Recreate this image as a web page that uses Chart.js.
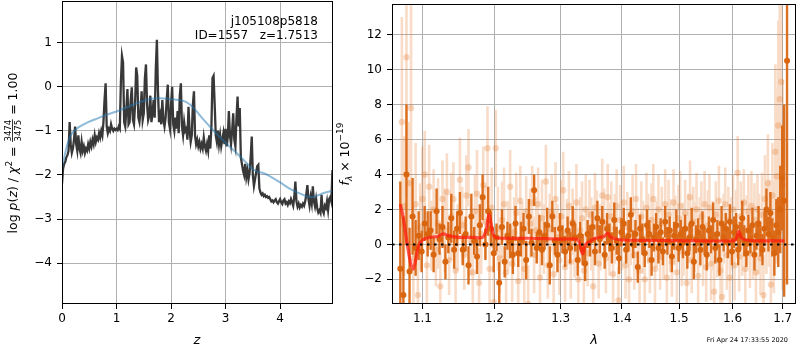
<!DOCTYPE html>
<html><head><meta charset="utf-8">
<script src="https://cdn.jsdelivr.net/npm/chart.js@4/dist/chart.umd.min.js"></script>
<style>
html,body{margin:0;padding:0;background:#fff;width:800px;height:350px;overflow:hidden}
#c1{position:absolute;left:0;top:0}
#c2{position:absolute;left:335px;top:0}
</style></head><body>
<canvas id="c1" width="335" height="350"></canvas>
<canvas id="c2" width="465" height="350"></canvas>
<script>
// ---------- left panel data: log p(z) ----------
const zTicks = [0, 1, 2, 3, 4];
const logpTicks = [-4, -3, -2, -1, 0, 1];
const zGrid = [0.00,0.02,0.04,0.06,0.08,0.10,0.12,0.14,0.16,0.18,0.20,0.22,0.24,0.26,0.28,0.30,0.32,0.34,0.36,0.38,0.40,0.42,0.44,0.46,0.48,0.50,0.52,0.54,0.56,0.58,0.60,0.62,0.64,0.66,0.68,0.70,0.72,0.74,0.76,0.78,0.80,0.82,0.84,0.86,0.88,0.90,0.92,0.94,0.96,0.98,1.00,1.02,1.04,1.06,1.08,1.10,1.12,1.14,1.16,1.18,1.20,1.22,1.24,1.26,1.28,1.30,1.32,1.34,1.36,1.38,1.40,1.42,1.44,1.46,1.48,1.50,1.52,1.54,1.56,1.58,1.60,1.62,1.64,1.66,1.68,1.70,1.72,1.74,1.76,1.78,1.80,1.82,1.84,1.86,1.88,1.90,1.92,1.94,1.96,1.98,2.00,2.02,2.04,2.06,2.08,2.10,2.12,2.14,2.16,2.18,2.20,2.22,2.24,2.26,2.28,2.30,2.32,2.34,2.36,2.38,2.40,2.42,2.44,2.46,2.48,2.50,2.52,2.54,2.56,2.58,2.60,2.62,2.64,2.66,2.68,2.70,2.72,2.74,2.76,2.78,2.80,2.82,2.84,2.86,2.88,2.90,2.92,2.94,2.96,2.98,3.00,3.02,3.04,3.06,3.08,3.10,3.12,3.14,3.16,3.18,3.20,3.22,3.24,3.26,3.28,3.30,3.32,3.34,3.36,3.38,3.40,3.42,3.44,3.46,3.48,3.50,3.52,3.54,3.56,3.58,3.60,3.62,3.64,3.66,3.68,3.70,3.72,3.74,3.76,3.78,3.80,3.82,3.84,3.86,3.88,3.90,3.92,3.94,3.96,3.98,4.00,4.02,4.04,4.06,4.08,4.10,4.12,4.14,4.16,4.18,4.20,4.22,4.24,4.26,4.28,4.30,4.32,4.34,4.36,4.38,4.40,4.42,4.44,4.46,4.48,4.50,4.52,4.54,4.56,4.58,4.60,4.62,4.64,4.66,4.68,4.70,4.72,4.74,4.76,4.78,4.80,4.82,4.84,4.86,4.88,4.90,4.92,4.94,4.96];
const logpz = [-2.20,-1.85,-1.75,-1.70,-1.60,-1.55,-1.45,-0.80,-1.30,-1.50,-1.40,-1.20,-0.90,-1.30,-1.45,-1.10,-1.40,-1.50,-1.25,-1.45,-1.35,-1.50,-1.40,-1.45,-1.30,-1.40,-1.25,-1.35,-1.20,-1.30,-1.10,-1.25,-1.15,-1.20,-1.05,-1.15,-1.00,-1.10,-0.80,-0.30,0.08,-0.90,-1.05,-0.95,-1.00,-0.85,-0.95,-1.00,-0.95,-0.98,-0.95,-0.98,-0.90,-0.95,0.10,0.70,0.55,-0.80,-0.90,-0.50,-0.05,-0.85,-0.80,-0.30,-0.01,-0.75,-0.85,-0.40,0.44,0.25,-0.70,-0.80,-0.55,-0.10,-0.75,-0.60,0.20,0.51,-0.40,-0.75,-0.65,-0.20,-0.80,-0.60,-0.30,-0.70,0.40,1.07,-0.10,-0.80,-0.65,-0.85,-0.30,-0.75,-0.90,-0.70,-0.30,0.05,-0.80,-0.95,-0.40,0.00,-0.85,-1.00,-0.70,-0.95,-0.55,-1.05,-0.20,0.08,-0.90,-1.10,-0.80,-1.00,-0.95,-1.20,-0.45,-1.00,-1.25,-1.10,-0.40,-0.10,-1.10,-1.30,-1.20,-1.35,-1.25,-1.40,-1.30,-1.40,-1.15,-1.35,-1.45,-1.30,-1.45,-1.10,-1.40,-0.90,0.20,0.25,-0.40,-1.10,-1.25,-1.00,-1.30,-1.10,-1.35,-1.20,-1.05,-1.30,-0.95,-1.35,-1.15,-0.55,-1.10,-1.30,-1.00,-0.60,-1.20,-1.35,-0.70,-0.22,-0.90,-0.48,-1.60,-1.75,-1.90,-2.00,-1.75,-2.05,-1.90,-2.10,-1.95,-1.60,-1.13,-2.00,-2.25,-2.10,-1.95,-1.80,-1.77,-2.30,-2.40,-2.45,-2.42,-2.48,-2.45,-2.50,-2.48,-2.52,-2.50,-2.55,-2.60,-2.58,-2.62,-2.58,-2.55,-2.62,-2.65,-2.60,-2.55,-2.62,-2.66,-2.58,-2.55,-2.65,-2.62,-2.68,-2.60,-2.64,-2.55,-2.62,-2.70,-2.50,-2.15,-2.60,-2.72,-2.65,-2.74,-2.68,-2.72,-2.65,-2.70,-2.60,-2.45,-2.23,-2.55,-2.70,-2.50,-2.65,-2.26,-2.60,-2.72,-2.55,-2.75,-2.85,-2.80,-2.86,-2.45,-2.80,-2.87,-2.70,-2.75,-2.60,-2.80,-2.55,-2.50,-2.60,-1.89];
const zSmooth = [0,0.05,0.1,0.15,0.2,0.3,0.4,0.5,0.6,0.8,1.0,1.2,1.4,1.6,1.8,2.0,2.2,2.3,2.4,2.6,2.8,3.0,3.2,3.3,3.4,3.5,3.6,3.7,3.8,4.0,4.2,4.4,4.5,4.6,4.7,4.8,4.97];
const logpSmooth = [-1.85,-1.55,-1.30,-1.13,-1.03,-0.92,-0.85,-0.79,-0.74,-0.64,-0.56,-0.46,-0.36,-0.28,-0.26,-0.28,-0.31,-0.36,-0.46,-0.75,-1.02,-1.27,-1.50,-1.62,-1.75,-1.87,-1.93,-1.96,-2.02,-2.17,-2.33,-2.44,-2.49,-2.50,-2.46,-2.41,-2.36];

// ---------- right panel data: spectrum ----------
const lamTicks = [1.1, 1.2, 1.3, 1.4, 1.5, 1.6, 1.7];
const fluxTicks = [-2, 0, 2, 4, 6, 8, 10, 12];
const darkLam = [1.071,1.075,1.079,1.083,1.087,1.091,1.095,1.099,1.103,1.107,
1.111,1.115,1.119,1.123,1.127,1.131,1.135,1.139,1.143,1.147,
1.151,1.155,1.159,1.163,1.167,1.171,1.175,1.179,1.183,1.187,
1.191,1.195,1.199,1.203,1.207,1.211,1.215,1.219,1.223,1.227,
1.231,1.235,1.239,1.243,1.247,1.251,1.255,1.259,1.263,1.267,
1.271,1.275,1.279,1.283,1.287,1.291,1.295,1.299,1.303,1.307,
1.311,1.315,1.319,1.323,1.327,1.331,1.335,1.339,1.343,1.347,
1.351,1.355,1.359,1.363,1.367,1.371,1.375,1.379,1.383,1.387,
1.391,1.395,1.399,1.403,1.407,1.411,1.415,1.419,1.423,1.427,
1.431,1.435,1.439,1.443,1.447,1.451,1.455,1.459,1.463,1.467,
1.471,1.475,1.479,1.483,1.487,1.491,1.495,1.499,1.503,1.507,
1.511,1.515,1.519,1.523,1.527,1.531,1.535,1.539,1.543,1.547,
1.551,1.555,1.559,1.563,1.567,1.571,1.575,1.579,1.583,1.587,
1.591,1.595,1.599,1.603,1.607,1.611,1.615,1.619,1.623,1.627,
1.631,1.635,1.639,1.643,1.647,1.651,1.655,1.659,1.663,1.667,
1.671,1.675,1.679,1.683,1.687,1.691,1.695,1.699,1.703,1.709];
const darkFlux = [-1.4,-2.9,4.0,-1.55,1.6,-0.2,0.5,-0.4,1.2,0.6,
0.8,-0.6,1.9,0.3,1.0,-1.0,0.4,1.5,-0.3,0.9,
1.8,-0.3,0.6,-1.2,1.6,0.2,-0.7,1.1,2.7,0.0,
1.9,0.9,-0.5,0.4,-2.2,1.0,-1.0,0.5,0.2,-0.6,
1.2,-0.5,0.3,0.9,-0.9,1.6,0.1,3.1,-0.2,0.7,
-0.3,0.5,1.1,-1.2,1.6,0.2,-0.6,0.9,0.3,-0.4,
0.8,-0.2,1.2,0.4,-0.9,0.5,-0.3,-1.1,0.6,0.2,
1.0,-0.4,1.5,0.3,1.3,-0.6,0.9,0.4,-0.2,1.4,
0.2,-0.8,0.7,1.2,-0.3,0.5,1.7,0.0,0.6,-1.3,
0.9,0.3,-0.5,1.1,0.6,-0.9,0.4,1.0,-0.2,0.7,
-0.4,1.3,0.2,0.8,-0.7,0.5,1.1,-0.2,0.6,0.1,
0.9,-0.5,0.4,1.2,-1.0,0.3,0.7,-0.3,1.0,0.2,
-0.6,0.8,0.3,1.4,-0.2,0.6,-0.9,1.2,0.4,0.9,
0.1,1.3,-0.4,0.7,1.0,-0.3,0.5,1.5,0.2,-0.5,
0.8,0.3,1.1,-0.6,0.5,1.2,0.2,-0.3,0.9,2.0,
0.6,1.8,0.4,-0.5,1.1,0.7,2.0,3.8,2.5,10.5];
const darkErr = [5.0,4.5,4.0,2.5,2.2,1.6,1.4,1.2,1.0,1.3,
1.1,1.0,1.3,0.9,1.2,1.0,0.9,1.4,1.1,1.0,
1.2,0.9,1.0,1.1,1.3,0.8,1.0,1.2,1.3,0.9,
1.4,1.0,1.1,0.8,1.2,1.0,0.9,0.8,1.0,1.1,
1.0,0.8,1.0,0.9,1.1,1.0,0.8,0.9,0.9,1.0,
0.9,0.8,1.0,1.1,0.9,0.8,1.0,0.9,0.8,0.9,
0.8,0.9,1.0,0.8,0.9,0.8,0.9,1.0,0.8,0.9,
0.9,0.8,1.0,0.8,0.9,0.8,0.9,0.8,0.9,1.0,
0.8,0.9,0.8,0.9,0.8,0.9,1.0,0.8,0.8,0.9,
0.8,0.9,0.8,0.9,0.8,0.9,0.8,0.8,0.9,0.8,
0.8,0.9,0.8,0.8,0.9,0.8,0.9,0.8,0.8,0.9,
0.8,0.9,0.8,0.9,1.0,0.8,0.8,0.9,0.9,0.8,
0.9,0.8,0.8,1.0,0.9,0.8,0.9,1.0,0.8,0.9,
0.9,1.0,0.8,0.9,0.8,0.9,0.8,1.0,0.9,0.8,
0.9,0.8,1.0,0.9,0.8,1.0,0.9,0.9,1.0,1.2,
1.0,1.2,1.1,1.3,1.5,2.0,2.5,3.0,5.5,12.8];
const lightLam = [1.073,1.076,1.079,1.082,1.085,1.088,1.091,1.094,1.097,1.100,
1.103,1.106,1.109,1.112,1.115,1.118,1.121,1.124,1.127,1.130,
1.133,1.136,1.139,1.142,1.145,1.148,1.151,1.154,1.157,1.160,
1.163,1.166,1.169,1.172,1.175,1.178,1.181,1.184,1.187,1.190,
1.193,1.196,1.199,1.202,1.205,1.208,1.211,1.214,1.217,1.220,
1.223,1.226,1.229,1.232,1.235,1.238,1.241,1.244,1.247,1.250,
1.253,1.256,1.259,1.262,1.265,1.268,1.271,1.274,1.277,1.280,
1.283,1.286,1.289,1.292,1.295,1.298,1.301,1.304,1.307,1.310,
1.313,1.316,1.319,1.322,1.325,1.328,1.331,1.334,1.337,1.340,
1.343,1.346,1.349,1.352,1.355,1.358,1.361,1.364,1.367,1.370,
1.373,1.376,1.379,1.382,1.385,1.388,1.391,1.394,1.397,1.400,
1.403,1.406,1.409,1.412,1.415,1.418,1.421,1.424,1.427,1.430,
1.433,1.436,1.439,1.442,1.445,1.448,1.451,1.454,1.457,1.460,
1.463,1.466,1.469,1.472,1.475,1.478,1.481,1.484,1.487,1.490,
1.493,1.496,1.499,1.502,1.505,1.508,1.511,1.514,1.517,1.520,
1.523,1.526,1.529,1.532,1.535,1.538,1.541,1.544,1.547,1.550,
1.553,1.556,1.559,1.562,1.565,1.568,1.571,1.574,1.577,1.580,
1.583,1.586,1.589,1.592,1.595,1.598,1.601,1.604,1.607,1.610,
1.613,1.616,1.619,1.622,1.625,1.628,1.631,1.634,1.637,1.640,
1.643,1.646,1.649,1.652,1.655,1.658,1.661,1.664,1.667,1.670,
1.673,1.676,1.679,1.682,1.685,1.688,1.691,1.694,1.697,1.700];
const lightFlux = [7.0,2.2,10.7,3.5,7.8,-0.8,2.3,-2.9,1.0,2.6,
4.0,-1.2,3.3,0.5,2.0,-0.3,1.2,-2.4,2.6,0.8,
3.0,-0.9,1.6,2.6,-1.5,0.4,3.7,1.1,-0.6,2.8,
4.4,0.2,-1.6,1.9,2.9,-2.2,0.6,3.4,1.3,5.5,
-1.4,2.1,-3.3,5.5,0.9,-0.8,1.4,2.3,-1.6,0.5,
3.3,-1.1,0.7,1.8,-2.1,2.5,0.2,-1.4,1.9,-3.4,
1.2,2.4,-0.6,0.8,2.3,-1.9,1.5,0.3,3.6,-1.2,
0.9,1.8,-1.7,2.6,0.4,-0.9,1.6,3.1,-1.3,0.7,
2.2,-1.0,1.3,0.1,2.4,-2.0,0.8,1.5,-1.5,2.0,
-0.5,1.7,0.6,-2.4,2.1,1.0,-1.1,0.4,2.8,1.2,
-0.8,2.7,0.3,1.6,-1.7,0.9,2.2,-3.2,1.4,0.5,
2.4,-1.2,1.0,-2.0,0.7,1.9,-0.6,2.6,0.2,-1.5,
1.6,0.4,-2.0,2.1,0.9,-0.9,1.4,2.6,-1.4,0.6,
2.0,-0.7,1.2,0.0,2.3,-1.9,1.7,0.5,-1.0,2.4,
0.8,-1.6,1.5,2.2,-0.4,0.3,1.8,-2.2,0.9,2.7,
-0.9,1.3,0.4,2.0,-1.8,0.7,1.6,-0.3,2.3,-1.3,
1.1,2.1,-1.1,0.5,-2.7,1.7,0.2,2.5,-1.5,-3.0,
0.9,2.3,-0.6,1.4,-1.9,0.6,2.0,-1.2,1.2,4.1,
-0.7,1.6,0.3,2.4,-1.4,0.8,1.9,-0.5,2.2,0.1,
1.4,-1.6,2.0,0.6,-0.8,1.7,-2.9,2.6,0.9,3.5,
1.2,-2.3,2.8,0.4,5.3,3.9,6.8,8.3,9.3,3.4];
const lightErr = [6.0,4.0,8.0,3.5,6.0,3.0,3.5,3.0,2.5,3.0,
2.5,2.2,2.4,2.0,2.3,2.1,2.6,2.0,2.2,2.4,
2.2,2.0,2.5,2.1,2.3,1.9,2.4,2.2,2.0,2.3,
2.2,2.0,2.4,2.1,2.5,2.0,2.3,2.2,2.1,2.4,
2.0,2.3,2.1,2.2,2.4,2.0,2.2,2.1,2.3,2.0,
2.1,2.2,2.0,2.3,2.1,2.0,2.2,2.1,2.0,2.2,
2.0,2.1,2.2,1.9,2.1,2.0,2.2,2.0,2.1,1.9,
2.0,2.2,2.0,2.1,1.9,2.0,2.1,2.2,2.0,1.9,
2.0,2.1,1.9,2.0,2.2,2.0,1.9,2.1,2.0,2.0,
1.9,2.0,2.1,1.9,2.0,2.1,2.0,1.9,2.1,2.0,
2.0,1.9,2.1,2.0,1.9,2.0,2.1,1.9,2.0,2.0,
2.1,1.9,2.0,2.0,1.9,2.1,2.0,2.0,1.9,2.0,
2.0,2.1,1.9,2.0,2.0,1.9,2.1,2.0,2.0,1.9,
2.0,1.9,2.1,2.0,2.0,1.9,2.0,2.1,2.0,1.9,
2.0,2.1,1.9,2.0,2.0,2.1,1.9,2.0,2.0,2.1,
1.9,2.0,2.0,2.1,1.9,2.0,2.0,2.1,1.9,2.0,
2.0,1.9,2.1,2.0,2.0,1.9,2.1,2.0,2.0,1.9,
2.0,2.1,2.0,1.9,2.0,2.1,2.0,2.0,1.9,2.1,
2.0,2.0,2.1,1.9,2.0,2.0,2.1,2.0,2.0,2.1,
2.1,2.2,2.0,2.3,2.1,2.4,2.3,2.5,2.6,2.8,
2.5,2.8,3.0,3.2,5.0,5.0,6.0,7.0,7.5,6.0];
const modelLam = [1.071,1.075,1.080,1.085,1.088,1.091,1.095,1.100,1.110,1.120,1.128,1.135,1.150,1.170,1.183,1.188,1.192,1.196,1.200,1.210,1.250,1.300,1.325,1.330,1.335,1.340,1.350,1.360,1.370,1.376,1.380,1.385,1.400,1.500,1.600,1.607,1.612,1.617,1.625,1.650,1.704];
const modelFlux = [2.3,1.5,0.0,-1.2,-1.4,-0.9,-0.1,0.25,0.4,0.45,0.6,0.5,0.4,0.4,0.4,0.8,1.7,1.0,0.45,0.35,0.35,0.3,0.3,0.1,-0.55,0.0,0.25,0.4,0.45,0.65,0.45,0.35,0.25,0.22,0.2,0.3,0.75,0.4,0.25,0.2,0.2];

// ---------- helpers ----------
const FONT = 'DejaVu Sans';
Chart.defaults.font.family = FONT;
Chart.defaults.color = '#000';
const GRID = '#b0b0b0';
const minus = v => (v < 0 ? '\u2212' + Math.abs(v) : String(v));

function errData(lam, f, e) {
  const out = [];
  lam.forEach((l, i) => { out.push({x: l, y: f[i] - e[i]}, {x: l, y: f[i] + e[i]}, {x: l, y: null}); });
  return out;
}
function pts(xs, ys) { return xs.map((x, i) => ({x: x, y: ys[i]})); }

function drawParts(ctx, parts, x0, y0) {
  let w = 0;
  parts.forEach(p => {
    if (p.frac) { ctx.font = p.font; p.w = Math.max(ctx.measureText(p.frac[0]).width, ctx.measureText(p.frac[1]).width) + 2; }
    else { ctx.font = p.font; p.w = ctx.measureText(p.t).width; }
    w += p.w;
  });
  let x = x0 - w / 2;
  ctx.textBaseline = 'alphabetic';
  parts.forEach(p => {
    ctx.font = p.font;
    if (p.frac) {
      ctx.textAlign = 'center';
      const cx = x + p.w / 2, bar = y0 - 4;
      ctx.fillText(p.frac[0], cx, bar - 1.8);
      ctx.fillText(p.frac[1], cx, bar + 8.2);
      ctx.fillRect(x + 0.5, bar - 0.4, p.w - 1, 0.8);
      ctx.textAlign = 'left';
    } else {
      ctx.textAlign = 'left';
      ctx.fillText(p.t, x, y0 + (p.dy || 0));
    }
    x += p.w;
  });
}

const framePlugin = {
  id: 'frame',
  afterDatasetsDraw(chart) {
    const {ctx, chartArea: a} = chart;
    ctx.save(); ctx.strokeStyle = '#000'; ctx.lineWidth = 1;
    ctx.strokeRect(Math.round(a.left) + 0.5, Math.round(a.top) + 0.5, Math.round(a.right - a.left) - 1, Math.round(a.bottom - a.top) - 1);
    ctx.restore();
  }
};

const tickFont = {family: FONT, size: 12};
function xScale(extra) {
  return Object.assign({
    bounds: 'data',
    afterFit(s) { s.height = 46; s.paddingLeft = 0; s.paddingRight = 0; },
    ticks: {font: tickFont, color: '#000', padding: 3, maxRotation: 0, autoSkip: false},
    grid: {color: GRID, lineWidth: 1, tickColor: '#000', tickLength: 5},
    border: {display: false}
  }, extra);
}
function yScale(extra, w) {
  return Object.assign({
    bounds: 'data',
    afterFit(s) { s.width = w; s.paddingTop = 0; s.paddingBottom = 0; },
    ticks: {font: tickFont, color: '#000', padding: 5, autoSkip: false, callback: v => minus(v)},
    grid: {color: GRID, lineWidth: 1, tickColor: '#000', tickLength: 5},
    border: {display: false}
  }, extra);
}

// ---------- left chart ----------
new Chart(document.getElementById('c1'), {
  type: 'line',
  data: {datasets: [
    {data: pts(zSmooth, logpSmooth), borderColor: 'rgba(31,119,180,0.5)', borderWidth: 2, pointRadius: 0, tension: 0.4, order: 1},
    {data: pts(zGrid, logpz), borderColor: '#383838', borderWidth: 2.3, pointRadius: 0, tension: 0, order: 2}
  ]},
  options: {
    responsive: false, animation: false, events: [],
    plugins: {legend: {display: false}, tooltip: {enabled: false}},
    layout: {padding: {left: 0, right: 2, top: 1, bottom: 0}},
    scales: {
      x: xScale({type: 'linear', min: 0, max: 4.97,
        afterBuildTicks(s) { s.ticks = zTicks.map(v => ({value: v})); },
        ticks: {font: tickFont, color: '#000', padding: 3, maxRotation: 0, autoSkip: false, callback: v => String(v)}}),
      y: yScale({type: 'linear', min: -4.93, max: 1.95,
        afterBuildTicks(s) { s.ticks = logpTicks.map(v => ({value: v})); }}, 62)
    }
  },
  plugins: [framePlugin, {
    id: 'texts1',
    afterDraw(chart) {
      const ctx = chart.ctx; ctx.save(); ctx.fillStyle = '#000';
      ctx.font = '12px ' + FONT; ctx.textAlign = 'right'; ctx.textBaseline = 'alphabetic';
      ctx.fillText('j105108p5818', 318, 25);
      ctx.fillText('ID=1557   z=1.7513', 318, 39);
      ctx.font = 'italic 13px ' + FONT; ctx.textAlign = 'center';
      ctx.fillText('z', 197, 344);
      ctx.translate(16.5, 153); ctx.rotate(-Math.PI / 2);
      const N = '12.5px ' + FONT, I = 'italic 12.5px ' + FONT;
      drawParts(ctx, [
        {t: 'log ', font: N}, {t: 'p', font: I}, {t: '(', font: N}, {t: 'z', font: I}, {t: ') / ', font: N},
        {t: '\u03c7', font: I}, {t: '2', font: '9px ' + FONT, dy: -5}, {t: ' = ', font: N},
        {frac: ['3474', '3475'], font: '8.5px ' + FONT}, {t: ' = 1.00', font: N}
      ], 0, 0);
      ctx.restore();
    }
  }]
});

// ---------- right chart ----------
new Chart(document.getElementById('c2'), {
  type: 'line',
  data: {datasets: [
    {data: [{x: 1.0603, y: 0}, {x: 1.7276, y: 0}], borderColor: '#000', borderWidth: 2, borderDash: [2.5, 4.5], pointRadius: 0, order: 0},
    {data: pts(modelLam, modelFlux), borderColor: 'rgba(255,25,15,0.72)', borderWidth: 3.2, pointRadius: 0, tension: 0.3, order: 1},
    {data: pts(darkLam, darkFlux), showLine: false, pointRadius: 3, pointBorderWidth: 0, pointBackgroundColor: '#d9650f', order: 2},
    {data: errData(darkLam, darkFlux, darkErr), borderColor: 'rgba(217,100,14,0.92)', borderWidth: 2.4, borderCapStyle: 'butt', pointRadius: 0, spanGaps: false, order: 3},
    {data: pts(lightLam, lightFlux), showLine: false, pointRadius: 3.2, pointBorderWidth: 0, pointBackgroundColor: 'rgba(228,120,40,0.28)', order: 4},
    {data: errData(lightLam, lightFlux, lightErr), borderColor: 'rgba(228,120,40,0.26)', borderWidth: 2.6, borderCapStyle: 'butt', pointRadius: 0, spanGaps: false, order: 5}
  ]},
  options: {
    responsive: false, animation: false, events: [],
    plugins: {legend: {display: false}, tooltip: {enabled: false}},
    layout: {padding: {left: 0, right: 1, top: 2, bottom: 0}},
    scales: {
      x: xScale({type: 'logarithmic', min: 1.0603, max: 1.7276,
        afterBuildTicks(s) { s.ticks = lamTicks.map(v => ({value: v})); },
        ticks: {font: tickFont, color: '#000', padding: 3, maxRotation: 0, autoSkip: false, callback: v => Number(v).toFixed(1)}}),
      y: yScale({type: 'linear', min: -3.41, max: 13.75,
        afterBuildTicks(s) { s.ticks = fluxTicks.map(v => ({value: v})); }}, 57)
    }
  },
  plugins: [framePlugin, {
    id: 'texts2',
    afterDraw(chart) {
      const ctx = chart.ctx; ctx.save(); ctx.fillStyle = '#000';
      ctx.font = 'italic 13px ' + FONT; ctx.textAlign = 'center'; ctx.textBaseline = 'alphabetic';
      ctx.fillText('\u03bb', 594 - 335, 344);
      ctx.font = '6.5px ' + FONT; ctx.textAlign = 'right';
      ctx.fillText('Fri Apr 24 17:33:55 2020', 788 - 335, 342);
      ctx.translate(14, 154); ctx.rotate(-Math.PI / 2);
      const N = '12.5px ' + FONT, I = 'italic 12.5px ' + FONT;
      drawParts(ctx, [
        {t: 'f', font: I}, {t: '\u03bb', font: 'italic 9px ' + FONT, dy: 3}, {t: ' \u00d7 10', font: N},
        {t: '\u221219', font: '9px ' + FONT, dy: -6}
      ], 0, 0);
      ctx.restore();
    }
  }]
});
</script>
</body></html>
